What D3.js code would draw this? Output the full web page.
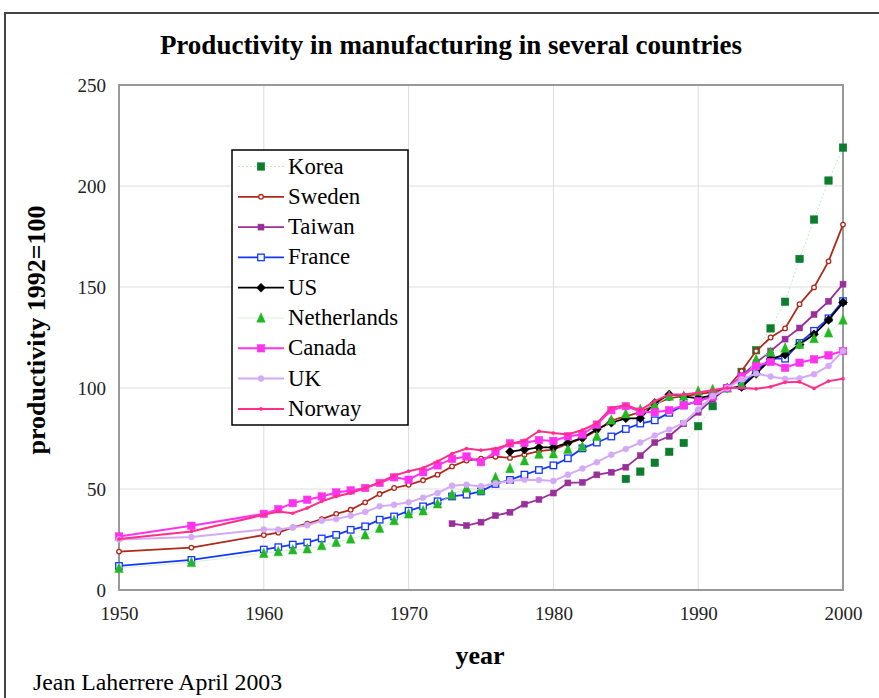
<!DOCTYPE html>
<html>
<head>
<meta charset="utf-8">
<script src="https://cdn.jsdelivr.net/npm/d3@7"></script>
<style>
  body { margin: 0; background: #fff; }
  svg { font-family: "Liberation Serif", "DejaVu Serif", serif; }
</style>
</head>
<body>
<svg id="chart" width="879" height="698"></svg>
<script>
// years used by most countries: 1950, 1955, then every year 1960-2000
var yearsLong = [1950, 1955].concat(d3.range(1960, 2001));
var yearsKorea = d3.range(1985, 2001);
var yearsTaiwan = d3.range(1973, 2001);
var yearsUS = d3.range(1977, 2001);

var korea = [55, 58.6, 63, 68.4, 72.8, 81.1, 91, 100, 108, 118.7, 129.5, 142.7, 163.9, 183.4, 202.7, 219];
var sweden = [19.0, 21,
    27.2, 28.4, 31, 32.8, 35.1, 37.7, 39.7, 43.4, 47.5, 50.5,
    52.1, 54.3, 57.1, 61.2, 64.1, 65, 66, 65.4, 67, 68.7,
    69.5, 72.5, 75, 79, 84, 86, 88, 92, 95, 96,
    97, 98, 100, 108.4, 118.3, 125, 129.5, 141.5, 149.8, 162.7,
    180.9];
var taiwan = [32.8, 31.9, 33.6, 36.8, 38.5, 42.5, 44.8, 48, 53, 53.3, 57, 58.3, 60.8, 66.5,
    73, 76.1, 82.3, 88, 94.5, 100, 105.9, 112.5, 118.3, 124.2, 129.7, 136.4, 142.9, 151.4];
var france = [11.9, 14.9,
    20, 21.2, 22.5, 23.5, 25.5, 27.3, 29.8, 31.5, 34.8, 36.4,
    39.2, 41.4, 43.9, 46.3, 47.2, 48.8, 52.5, 54.5, 57.1, 59.4,
    61.7, 65.2, 70.1, 73, 76, 79.7, 82.4, 84, 87.7, 91.4,
    93.5, 96, 100, 101, 108.4, 114.5, 114.5, 122.3, 128.3, 134.5,
    143];
var us = [68.5, 69.5, 70.6, 70.6, 72.8, 75.3, 79.6, 82.8, 85, 85, 92.6, 96.8, 95.7, 95,
    96.3, 100, 100.5, 107, 114.3, 116.5, 121.5, 126.6, 133.7, 142.3];
var netherlands = [10.8, 13.7,
    18.2, 19, 19.9, 20.4, 22, 23.7, 25.3, 27.3, 30.6, 34.4,
    37.7, 39.2, 42.7, 47.2, 50.5, 49.5, 55.7, 60.2, 64, 67.3,
    67.5, 69.7, 71, 76.1, 84.2, 87.3, 89.4, 91.4, 96, 96,
    98.5, 99.3, 100, 101.8, 114.2, 117.8, 119.8, 121.6, 124.5, 127.3,
    133.7];
var canada = [26.5, 31.8,
    37.7, 40, 43, 44.7, 46.3, 48.3, 49.3, 50.5, 53, 55.8,
    54.6, 58.3, 61.7, 64.9, 66.1, 63.3, 68.5, 72.6, 72.8, 74.2,
    73.8, 76.1, 77, 81.9, 89, 91, 88.3, 88, 89, 91.4,
    93.5, 95.7, 100, 105.6, 110.9, 112.9, 110, 112.5, 114.2, 116.2,
    118.3];
var uk = [25, 26.2,
    30, 30, 30.9, 32.1, 34.3, 35.1, 36.7, 38.6, 41.4, 42.2,
    43.4, 45.7, 48, 51.6, 52.1, 51.3, 52.8, 54, 54.6, 54.5,
    54, 57.1, 60.1, 63.3, 67, 69.8, 73, 76.5, 79.4, 82.8,
    89.4, 96, 100, 104.3, 107.2, 105.7, 104.5, 104.8, 106.8, 110.9,
    118.3];
var norway = [25.2, 29,
    37.2, 38.9, 38, 40.6, 43.9, 46.3, 48, 50.5, 53.3, 56.6,
    58.8, 60.4, 63.7, 67.5, 70, 69.2, 70, 72.3, 74, 78.6,
    77.7, 77, 79.2, 82.5, 90.2, 91.6, 89, 93.5, 96.8, 96.8,
    97.7, 99, 100, 100, 99.6, 100.6, 102.8, 103, 99.8, 103.4,
    104.6];

var xTicks = [1950, 1960, 1970, 1980, 1990, 2000];
var yTicks = [0, 50, 100, 150, 200, 250];

var series = [
    {name: "Korea", years: yearsKorea, values: korea, color: "#0b7d2c", line: "#b8e0b8", lw: 0.8, dash: "2,2", mark: "square", size: 7.5, fill: "#0b7d2c"},
    {name: "Sweden", years: yearsLong, values: sweden, color: "#b0281c", line: "#b0281c", lw: 1.8, dash: null, mark: "circle", size: 2.3, fill: "#fff"},
    {name: "Taiwan", years: yearsTaiwan, values: taiwan, color: "#9a2f9c", line: "#9a2f9c", lw: 1.8, dash: null, mark: "square", size: 6, fill: "#9a2f9c"},
    {name: "France", years: yearsLong, values: france, color: "#1438ff", line: "#1438ff", lw: 1.8, dash: null, mark: "square", size: 6.5, fill: "#fff"},
    {name: "US", years: yearsUS, values: us, color: "#000", line: "#000", lw: 1.8, dash: null, mark: "diamond", size: 4.5, fill: "#000"},
    {name: "Netherlands", years: yearsLong, values: netherlands, color: "#22b822", line: "#cdeecd", lw: 0.8, dash: null, mark: "triangle", size: 8.5, fill: "#22b822"},
    {name: "Canada", years: yearsLong, values: canada, color: "#ff33ee", line: "#ff33ee", lw: 2, dash: null, mark: "square", size: 7.5, fill: "#ff33ee"},
    {name: "UK", years: yearsLong, values: uk, color: "#d4aaf6", line: "#d4aaf6", lw: 2, dash: null, mark: "circle", size: 3, fill: "#d4aaf6"},
    {name: "Norway", years: yearsLong, values: norway, color: "#ff2f8a", line: "#ff2f8a", lw: 2, dash: null, mark: "circle", size: 1.6, fill: "#ff2f8a"}
];

var svg = d3.select("#chart");
// plot area edges (not "top": that name is taken by window.top)
var pLeft = 119, pRight = 843, pTop = 85, pBottom = 590;

var x = d3.scaleLinear().domain([1950, 2000]).range([pLeft, pRight]);
var y = d3.scaleLinear().domain([0, 250]).range([pBottom, pTop]);

// outer frame
svg.append("rect")
    .attr("x", 5).attr("y", 13)
    .attr("width", 900).attr("height", 800)
    .attr("fill", "none")
    .attr("stroke", "#444")
    .attr("stroke-width", 2);

svg.append("text")
    .attr("x", 451).attr("y", 54)
    .attr("text-anchor", "middle")
    .attr("font-size", "27px")
    .attr("font-weight", "bold")
    .text("Productivity in manufacturing in several countries");

// grid
svg.append("g").selectAll("line")
    .data(xTicks).enter().append("line")
    .attr("x1", x).attr("x2", x)
    .attr("y1", pTop).attr("y2", pBottom)
    .attr("stroke", "#ddd").attr("stroke-width", 1);
svg.append("g").selectAll("line")
    .data(yTicks).enter().append("line")
    .attr("x1", pLeft).attr("x2", pRight)
    .attr("y1", y).attr("y2", y)
    .attr("stroke", "#ddd").attr("stroke-width", 1);

// axes (ticks hidden, labels only)
var xAxis = svg.append("g")
    .attr("transform", "translate(0," + pBottom + ")")
    .call(d3.axisBottom(x).tickValues(xTicks).tickFormat(d3.format("d")).tickSize(0).tickPadding(17));
var yAxis = svg.append("g")
    .attr("transform", "translate(" + pLeft + ",0)")
    .call(d3.axisLeft(y).tickValues(yTicks).tickSize(0).tickPadding(13));
[xAxis, yAxis].forEach(function(a) {
    a.select(".domain").remove();
    a.selectAll("text")
        .attr("font-family", "Liberation Serif, serif")
        .attr("font-size", "19px")
        .attr("fill", "#222");
});

svg.append("rect")
    .attr("x", pLeft).attr("y", pTop)
    .attr("width", pRight - pLeft).attr("height", pBottom - pTop)
    .attr("fill", "none")
    .attr("stroke", "#999")
    .attr("stroke-width", 2);

svg.append("text")
    .attr("x", 480).attr("y", 664)
    .attr("text-anchor", "middle")
    .attr("font-size", "26px")
    .attr("font-weight", "bold")
    .text("year");

svg.append("text")
    .attr("transform", "translate(45,330) rotate(-90)")
    .attr("text-anchor", "middle")
    .attr("font-size", "26px")
    .attr("font-weight", "bold")
    .text("productivity 1992=100");

svg.append("text")
    .attr("x", 33).attr("y", 690)
    .attr("font-size", "23.8px")
    .text("Jean Laherrere April 2003");

function drawMark(g, s, cx, cy) {
    var m;
    if (s.mark === "square") {
        m = g.append("rect")
            .attr("x", cx - s.size / 2).attr("y", cy - s.size / 2)
            .attr("width", s.size).attr("height", s.size);
    } else if (s.mark === "circle") {
        m = g.append("circle").attr("cx", cx).attr("cy", cy).attr("r", s.size);
    } else if (s.mark === "diamond") {
        var d = s.size;
        m = g.append("path")
            .attr("d", "M" + cx + "," + (cy - d) + "L" + (cx + d) + "," + cy +
                  "L" + cx + "," + (cy + d) + "L" + (cx - d) + "," + cy + "Z");
    } else {
        var h = s.size;
        m = g.append("path")
            .attr("d", "M" + cx + "," + (cy - h / 2 - 1) + "L" + (cx + h / 2) + "," + (cy + h / 2) +
                  "L" + (cx - h / 2) + "," + (cy + h / 2) + "Z");
    }
    m.attr("fill", s.fill)
        .attr("stroke", s.color)
        .attr("stroke-width", s.fill === "#fff" ? 1.3 : 0.5);
}

var line = d3.line()
    .x(function(d) { return x(d[0]); })
    .y(function(d) { return y(d[1]); });

series.forEach(function(s) {
    var pts = s.years.map(function(yr, i) { return [yr, s.values[i]]; });
    var g = svg.append("g");
    g.append("path")
        .datum(pts)
        .attr("d", line)
        .attr("fill", "none")
        .attr("stroke", s.line)
        .attr("stroke-width", s.lw)
        .attr("stroke-dasharray", s.dash);
    pts.forEach(function(p) { drawMark(g, s, x(p[0]), y(p[1])); });
});

// legend
var lg = svg.append("g").attr("transform", "translate(232,150)");
lg.append("rect")
    .attr("x", 0).attr("y", 0)
    .attr("width", 176).attr("height", 275)
    .attr("fill", "#fff")
    .attr("stroke", "#000")
    .attr("stroke-width", 1.5);
series.forEach(function(s, i) {
    var cy = 16.5 + i * 30.3;
    lg.append("line")
        .attr("x1", 6).attr("x2", 52)
        .attr("y1", cy).attr("y2", cy)
        .attr("stroke", s.line)
        .attr("stroke-width", s.lw)
        .attr("stroke-dasharray", s.dash);
    drawMark(lg, s, 29, cy);
    lg.append("text")
        .attr("x", 56).attr("y", cy + 7)
        .attr("font-size", "22.8px")
        .text(s.name);
});
</script>
</body>
</html>
